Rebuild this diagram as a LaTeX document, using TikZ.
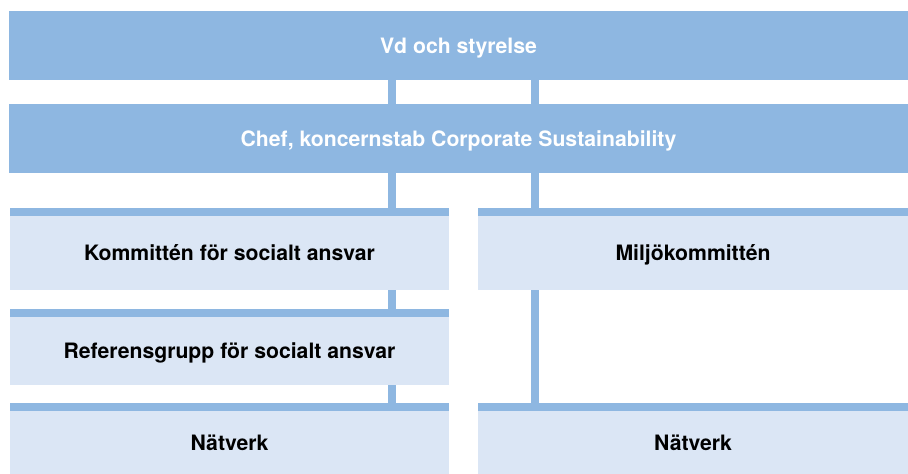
\documentclass[tikz,border=0pt]{standalone}
\usepackage{fontspec}
\setmainfont{TeX Gyre Heros}
\definecolor{darkblue}{HTML}{8EB7E1}
\definecolor{lightblue}{HTML}{DBE6F5}
\begin{document}
\begin{tikzpicture}[x=1pt,y=-1pt,
  txt/.style={font=\fontsize{21.2}{25}\selectfont\bfseries, inner sep=0pt, text height=15.2pt, text depth=0pt},
  topbox/.style={txt, fill=darkblue, draw=none, text=white, minimum width=899pt, minimum height=69pt},
  unitbox/.style={txt, fill=lightblue, draw=none, text=black},
  bar/.style={fill=darkblue, draw=none},
  conn/.style={draw=darkblue, line width=8pt}]
\useasboundingbox (0,0) rectangle (908,474);
\coordinate (cL) at (392,0);
\coordinate (cR) at (535,0);
% top boxes
\node[topbox] (vd) at (458.5,45.5) {Vd och styrelse};
\node[topbox] (chef) at (458.5,138.5) {Chef, koncernstab Corporate Sustainability};
% unit boxes
\node[unitbox, minimum width=439pt, minimum height=74pt] (kom) at (229.5,253) {Kommittén för socialt ansvar};
\node[unitbox, minimum width=430pt, minimum height=74pt] (milj) at (693,253) {Miljökommittén};
\node[unitbox, minimum width=439pt, minimum height=68pt] (ref) at (229.5,351) {Referensgrupp för socialt ansvar};
\node[unitbox, minimum width=439pt, minimum height=63pt] (nat1) at (229.5,442.5) {Nätverk};
\node[unitbox, minimum width=430pt, minimum height=63pt] (nat2) at (693,442.5) {Nätverk};
% connectors
\draw[conn] (vd.south -| cL) -- (chef.north -| cL);
\draw[conn] (vd.south -| cR) -- (chef.north -| cR);
\draw[conn] (chef.south -| cL) -- (kom.north -| cL);
\draw[conn] (chef.south -| cR) -- (milj.north -| cR);
\draw[conn] (kom.south -| cL) -- (ref.north -| cL);
\draw[conn] (ref.south -| cL) -- (nat1.north -| cL);
\draw[conn] (milj.south -| cR) -- (nat2.north -| cR);
% bars on top of unit boxes
\foreach \n in {kom,milj,ref,nat1,nat2}{
  \fill[bar] (\n.north west) rectangle ([yshift=8pt]\n.north east);
}
\end{tikzpicture}
\end{document}
